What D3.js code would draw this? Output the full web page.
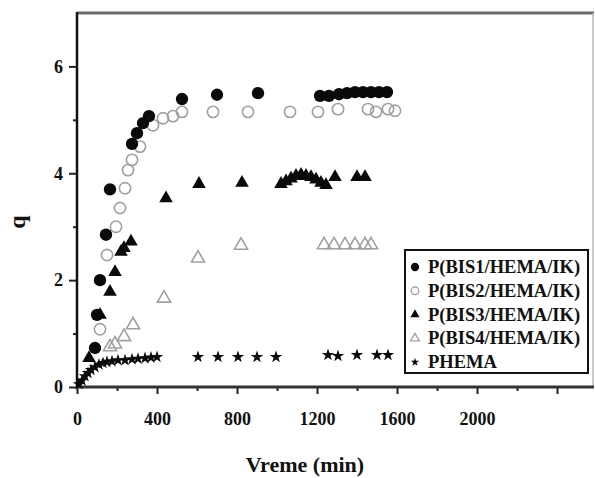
<!DOCTYPE html>
<html>
<head>
<meta charset="utf-8">
<script src="https://cdn.jsdelivr.net/npm/d3@7"></script>
<style>
  html, body { margin: 0; padding: 0; background: #fff; }
  svg { display: block; }
  text { font-family: "Liberation Serif", "Times New Roman", serif; fill: #111; }
</style>
</head>
<body>
<svg id="chart" width="595" height="478"></svg>
<script>
// ---- data ----
const seriesNames = ["P(BIS1/HEMA/IK)", "P(BIS2/HEMA/IK)", "P(BIS3/HEMA/IK)", "P(BIS4/HEMA/IK)", "PHEMA"];

const bis1X = [90, 100, 115, 145, 165, 275, 300, 330, 360, 525, 700, 905, 1215, 1260, 1310, 1350, 1390, 1430, 1470, 1510, 1550];
const bis1Y = [0.73, 1.35, 2.0, 2.85, 3.7, 4.55, 4.75, 4.94, 5.07, 5.39, 5.47, 5.5, 5.45, 5.45, 5.48, 5.5, 5.52, 5.52, 5.52, 5.52, 5.52];

const bis2X = [115, 150, 195, 215, 240, 255, 275, 315, 380, 430, 480, 525, 680, 855, 1065, 1205, 1305, 1455, 1495, 1555, 1590];
const bis2Y = [1.08, 2.47, 3.0, 3.35, 3.72, 4.06, 4.25, 4.5, 4.9, 5.03, 5.07, 5.15, 5.15, 5.15, 5.15, 5.15, 5.2, 5.2, 5.15, 5.2, 5.17];

const bis3X = [60, 115, 165, 190, 220, 235, 270, 445, 610, 825, 1020, 1045, 1070, 1095, 1120, 1145, 1170, 1195, 1220, 1245, 1290, 1400, 1440];
const bis3Y = [0.54, 1.35, 1.78, 2.15, 2.53, 2.6, 2.72, 3.53, 3.8, 3.82, 3.8, 3.85, 3.9, 3.95, 3.97, 3.95, 3.93, 3.88, 3.82, 3.78, 3.93, 3.93, 3.93];

const bis4X = [165, 190, 235, 280, 435, 605, 820, 1235, 1285, 1340, 1390, 1440, 1470];
const bis4Y = [0.75, 0.8, 0.94, 1.16, 1.66, 2.41, 2.65, 2.66, 2.66, 2.66, 2.66, 2.66, 2.66];

const phemaX = [10, 25, 40, 55, 70, 90, 110, 130, 150, 175, 205, 240, 275, 305, 340, 370, 400, 605, 705, 805, 900, 995, 1255, 1305, 1400, 1500, 1555];
const phemaY = [0.05, 0.12, 0.2, 0.26, 0.32, 0.37, 0.42, 0.45, 0.47, 0.48, 0.5, 0.5, 0.52, 0.53, 0.54, 0.55, 0.56, 0.56, 0.56, 0.56, 0.56, 0.56, 0.6, 0.58, 0.6, 0.6, 0.6];

const xMajorTicks = [0, 400, 800, 1200, 1600, 2000, 2400];
const xTickLabels = ["0", "400", "800", "1200", "1600", "2000", ""];
const xMinorTicks = [200, 600, 1000, 1400, 1800, 2200];
const yMajorTicks = [0, 2, 4, 6];
const yMinorTicks = [1, 3, 5];

const xTitle = "Vreme (min)";
const yTitle = "q";

// ---- layout ----
const svg = d3.select("#chart");
const mLeft = 77, mRight = 594, mTop = 13, mBottom = 387;
const x = d3.scaleLinear().domain([0, 2585]).range([mLeft, mRight]);
const y = d3.scaleLinear().domain([0, 7]).range([mBottom, mTop]);

// frame
svg.append("line").attr("x1", mLeft).attr("x2", mRight).attr("y1", mTop).attr("y2", mTop)
  .attr("stroke", "#6a6a6a").attr("stroke-width", 3);
svg.append("line").attr("x1", mRight - 1).attr("x2", mRight - 1).attr("y1", mTop).attr("y2", mBottom)
  .attr("stroke", "#bbb").attr("stroke-width", 1.5);

// axes
const xMajor = d3.axisBottom(x).tickValues(xMajorTicks).tickSize(7).tickPadding(18)
  .tickFormat((d, i) => xTickLabels[i]);
const xMinor = d3.axisBottom(x).tickValues(xMinorTicks).tickSize(4).tickFormat("");
const yMajor = d3.axisLeft(y).tickValues(yMajorTicks).tickSize(8).tickPadding(6).tickFormat(d3.format("d"));
const yMinor = d3.axisLeft(y).tickValues(yMinorTicks).tickSize(4).tickFormat("");

function styleAxis(g) {
  g.select(".domain").remove();
  g.selectAll(".tick line").attr("stroke", "#222").attr("stroke-width", 2);
  g.selectAll(".tick text").style("font-family", "'Liberation Serif', serif")
    .style("font-size", "18px").style("font-weight", "bold").attr("fill", "#111");
}
svg.append("g").attr("transform", `translate(0,${mBottom})`).call(xMajor).call(styleAxis);
svg.append("g").attr("transform", `translate(0,${mBottom})`).call(xMinor).call(styleAxis);
svg.append("g").attr("transform", `translate(${mLeft},0)`).call(yMajor).call(styleAxis);
svg.append("g").attr("transform", `translate(${mLeft},0)`).call(yMinor).call(styleAxis);

svg.append("line").attr("x1", mLeft).attr("x2", mRight).attr("y1", mBottom).attr("y2", mBottom)
  .attr("stroke", "#333").attr("stroke-width", 3);
svg.append("line").attr("x1", mLeft).attr("x2", mLeft).attr("y1", mTop - 1).attr("y2", mBottom + 1)
  .attr("stroke", "#111").attr("stroke-width", 2.5);

// titles
svg.append("text").attr("x", 305).attr("y", 472).attr("text-anchor", "middle")
  .style("font-size", "22px").style("font-weight", "bold").text(xTitle);
svg.append("text").attr("transform", "translate(25,222) rotate(-90)").attr("text-anchor", "middle")
  .style("font-size", "24px").style("font-weight", "bold").text(yTitle);

// series
const series = [
  { name: seriesNames[0], xs: bis1X, ys: bis1Y, type: d3.symbolCircle, size: 120, fill: "#0a0a0a", stroke: "none" },
  { name: seriesNames[1], xs: bis2X, ys: bis2Y, type: d3.symbolCircle, size: 100, fill: "none", stroke: "#a0a0a0" },
  { name: seriesNames[2], xs: bis3X, ys: bis3Y, type: d3.symbolTriangle, size: 80, fill: "#0a0a0a", stroke: "none" },
  { name: seriesNames[3], xs: bis4X, ys: bis4Y, type: d3.symbolTriangle, size: 75, fill: "none", stroke: "#a0a0a0" },
  { name: seriesNames[4], xs: phemaX, ys: phemaY, type: d3.symbolStar, size: 48, fill: "#0a0a0a", stroke: "none" }
];

const plotOrder = [1, 3, 0, 2, 4];
plotOrder.forEach(si => {
  const s = series[si];
  const pts = s.xs.map((v, i) => [v, s.ys[i]]);
  svg.append("g").selectAll("path").data(pts).enter().append("path")
    .attr("transform", d => `translate(${x(d[0])},${y(d[1])})`)
    .attr("d", d3.symbol().type(s.type).size(s.size))
    .attr("fill", s.fill).attr("stroke", s.stroke).attr("stroke-width", 1.6);
});

// legend
const lg = svg.append("g");
lg.append("rect").attr("x", 405).attr("y", 250).attr("width", 183).attr("height", 123)
  .attr("fill", "#fff").attr("stroke", "#111").attr("stroke-width", 2);
series.forEach((s, i) => {
  const cy = 267 + i * 23.8;
  lg.append("path").attr("transform", `translate(415,${cy})`)
    .attr("d", d3.symbol().type(s.type).size(s.size * 0.45))
    .attr("fill", s.fill).attr("stroke", s.stroke).attr("stroke-width", 1.3);
  lg.append("text").attr("x", 428).attr("y", cy + 6)
    .style("font-size", "18.5px").style("font-weight", "bold").text(s.name);
});
</script>
</body>
</html>
